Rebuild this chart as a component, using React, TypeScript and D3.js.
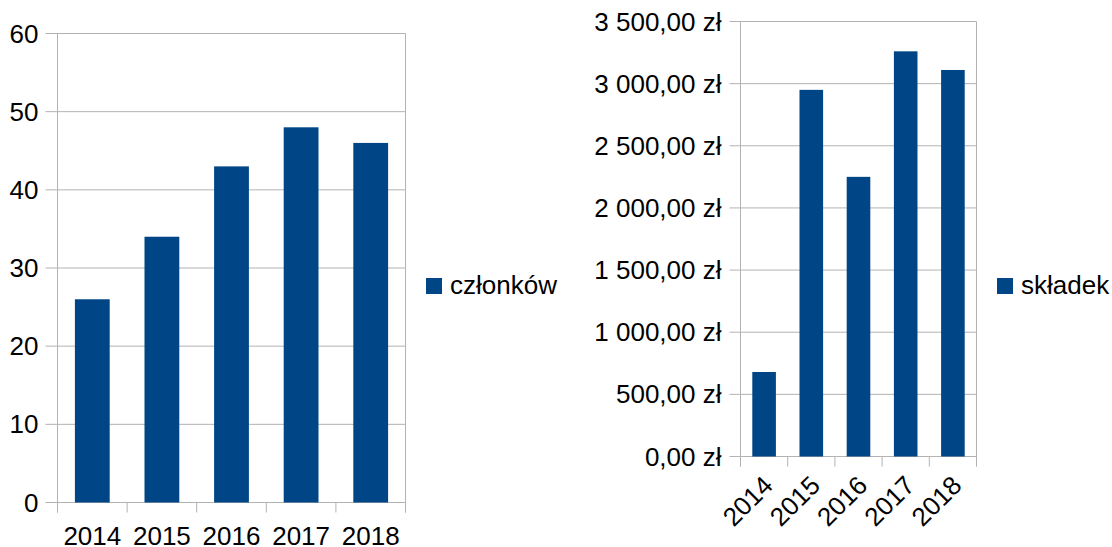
import { useEffect, useRef } from "react";
import * as d3 from "d3";

const years = ["2014", "2015", "2016", "2017", "2018"];
const members = [26, 34, 43, 48, 46];
const fees = [680, 2950, 2250, 3260, 3110];
const memberTicks = [0, 10, 20, 30, 40, 50, 60];
const feeTicks = [0, 500, 1000, 1500, 2000, 2500, 3000, 3500];

const BAR = "#004586";
const GRID = "#b3b3b3";
const FONT = "'Liberation Sans', Arial, sans-serif";

const plLocale = d3.formatLocale({
  decimal: ",",
  thousands: "\u00a0",
  grouping: [3],
  currency: ["", " zł"],
});
const fmtZl = (v: number) => plLocale.format(",.2f")(v) + " zł";

type Panel = {
  left: number;
  right: number;
  top: number;
  bottom: number;
  values: number[];
  ticks: number[];
  max: number;
  fmt: (v: number) => string;
  rotate: boolean;
  legend: string;
  legendX: number;
  fontSize: number;
  tickLen: number;
};

function drawPanel(svg: d3.Selection<SVGSVGElement, unknown, null, undefined>, p: Panel) {
  const x = d3
    .scaleBand<string>()
    .domain(years)
    .range([p.left, p.right])
    .paddingInner(0.5)
    .paddingOuter(0.25);
  const y = d3.scaleLinear().domain([0, p.max]).range([p.bottom, p.top]);
  const step = x.step();

  const g = svg.append("g");

  // horizontal gridlines + left ticks
  p.ticks.forEach((t) => {
    g.append("line")
      .attr("x1", p.left - p.tickLen)
      .attr("x2", p.right)
      .attr("y1", y(t))
      .attr("y2", y(t))
      .attr("stroke", GRID)
      .attr("stroke-width", 1);
    g.append("text")
      .attr("x", p.left - 19)
      .attr("y", y(t))
      .attr("dy", "0.35em")
      .attr("text-anchor", "end")
      .attr("font-family", FONT)
      .attr("font-size", p.fontSize)
      .attr("fill", "#000")
      .text(p.fmt(t));
  });

  // left axis and right wall border
  g.append("line")
    .attr("x1", p.left)
    .attr("x2", p.left)
    .attr("y1", y(p.max))
    .attr("y2", p.bottom + 10)
    .attr("stroke", GRID);
  g.append("line")
    .attr("x1", p.right)
    .attr("x2", p.right)
    .attr("y1", y(p.max))
    .attr("y2", p.bottom + 10)
    .attr("stroke", GRID);

  // category boundary ticks
  d3.range(years.length + 1).forEach((i) => {
    const bx = p.left + i * step;
    g.append("line")
      .attr("x1", bx)
      .attr("x2", bx)
      .attr("y1", p.bottom)
      .attr("y2", p.bottom + 10)
      .attr("stroke", GRID);
  });

  // bars
  g.selectAll("rect.bar")
    .data(p.values)
    .join("rect")
    .attr("class", "bar")
    .attr("x", (_, i) => x(years[i])!)
    .attr("width", x.bandwidth())
    .attr("y", (d) => y(d))
    .attr("height", (d) => p.bottom - y(d))
    .attr("fill", BAR);

  // category labels
  years.forEach((yr) => {
    const cx = x(yr)! + x.bandwidth() / 2;
    if (p.rotate) {
      g.append("text")
        .attr("transform", `translate(${cx + 4},${p.bottom + 24}) rotate(-45)`)
        .attr("text-anchor", "end")
        .attr("dy", "0.35em")
        .attr("font-family", FONT)
        .attr("font-size", p.fontSize)
        .text(yr);
    } else {
      g.append("text")
        .attr("x", cx)
        .attr("y", p.bottom + 42)
        .attr("text-anchor", "middle")
        .attr("font-family", FONT)
        .attr("font-size", p.fontSize)
        .text(yr);
    }
  });

  // legend
  g.append("rect")
    .attr("x", p.legendX)
    .attr("y", 278)
    .attr("width", 16)
    .attr("height", 16)
    .attr("fill", BAR);
  g.append("text")
    .attr("x", p.legendX + 24)
    .attr("y", 294)
    .attr("font-family", FONT)
    .attr("font-size", 26)
    .text(p.legend);
}

export default function App() {
  const svgRef = useRef<SVGSVGElement>(null);

  useEffect(() => {
    if (!svgRef.current) return;
    const svg = d3.select(svgRef.current);
    svg.selectAll("*").remove();

    drawPanel(svg, {
      left: 57.5,
      right: 405.5,
      top: 33.5,
      bottom: 502.5,
      values: members,
      ticks: memberTicks,
      max: 60,
      fmt: (v) => String(v),
      rotate: false,
      legend: "członków",
      legendX: 426,
      fontSize: 26,
      tickLen: 12,
    });

    drawPanel(svg, {
      left: 740.5,
      right: 976.5,
      top: 21.5,
      bottom: 456.5,
      values: fees,
      ticks: feeTicks,
      max: 3500,
      fmt: fmtZl,
      rotate: true,
      legend: "składek",
      legendX: 997,
      fontSize: 26,
      tickLen: 11,
    });
  }, []);

  return (
    <div style={{ position: "absolute", left: 0, top: 0 }}>
      <svg ref={svgRef} width={1112} height={547} style={{ display: "block", background: "#fff" }} />
    </div>
  );
}
